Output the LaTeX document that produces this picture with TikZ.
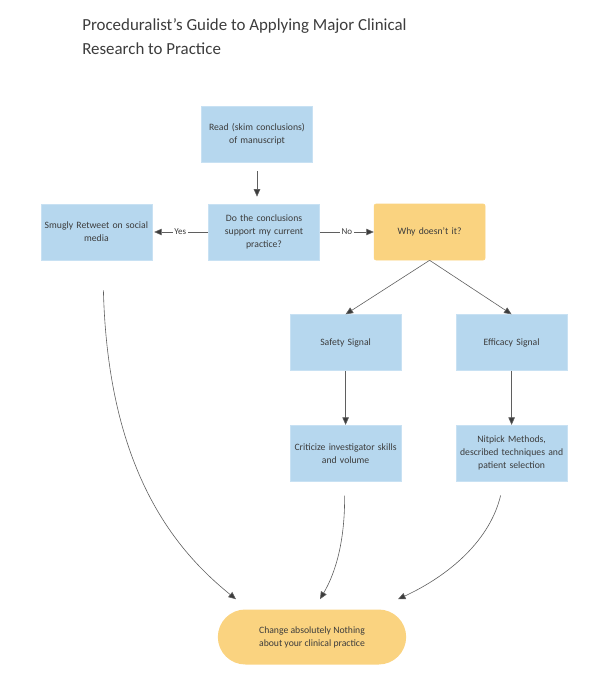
\documentclass[tikz,border=0pt]{standalone}
\usepackage{fontspec}
\setmainfont{Carlito}
\usetikzlibrary{positioning,shapes.misc,arrows.meta}
\definecolor{boxblue}{RGB}{182,215,238}
\definecolor{boxline}{RGB}{200,225,243}
\definecolor{boxorange}{RGB}{250,211,128}
\definecolor{lineg}{RGB}{95,95,95}
\definecolor{textg}{RGB}{60,60,60}

\begin{document}
\begin{tikzpicture}[x=1pt, y=-1pt, semithick, node distance=54pt]
  \tikzstyle{every node}=[font=\fontsize{9.7}{13}\selectfont, text=textg]
  \tikzstyle{proc}=[rectangle, fill=boxblue, draw=boxline, minimum width=111pt, minimum height=56pt, text width=110pt, align=center, inner sep=0pt]
  \tikzstyle{ask}=[proc, fill=boxorange, draw=boxorange, rounded corners=2pt]
  \tikzstyle{stop}=[rounded rectangle, fill=boxorange, draw=none, minimum width=195pt, minimum height=55pt, align=center]
  \tikzstyle{tag}=[fill=white, inner sep=1.5pt, font=\fontsize{9}{10}\selectfont]
  \tikzstyle{flow}=[draw=lineg, -{Triangle[length=7.5pt,width=6.5pt,fill=textg]}]
  \useasboundingbox (0,0) rectangle (605,680);
  \node[align=left, anchor=north west, font=\fontsize{16.9}{24}\selectfont, text=textg, inner sep=0pt] (title) at (82,18)
       {Proceduralist's Guide to Applying Major Clinical\\ Research to Practice};
  \node[proc]          (read)  at (257,134)       {Read (skim conclusions)\\ of manuscript};
  \node[proc]          (ask)   at (264,232)       {Do the conclusions\\ support my current\\ practice?};
  \node[proc]          (smug)  [left=56pt of ask] {Smugly Retweet on social\\ media};
  \node[ask]           (why)   [right=of ask]     {Why doesn't it?};
  \node[proc]          (safe)  [below=of why, xshift=-84pt]  {Safety Signal};
  \node[proc]          (eff)   [below=of why, xshift=82pt]   {Efficacy Signal};
  \node[proc]          (crit)  [below=of safe]    {Criticize investigator skills\\ and volume};
  \node[proc]          (nit)   [below=of eff]     {Nitpick Methods,\\ described techniques and\\ patient selection};
  \node[stop]          (none)  at (312,637)       {Change absolutely Nothing\\ about your clinical practice};

  \path (read.south) edge [flow, shorten <=9pt, shorten >=7pt]   (read.south |- ask.north)
        (ask)  edge [flow, shorten >=2pt]  node [tag] {Yes} (smug)
               edge [flow]                 node [tag] {No}  (why)
        (why.south)  edge [flow] (safe.north)
                     edge [flow] (eff.north)
        (safe) edge [flow] (crit)
        (eff)  edge [flow] (nit);

  % curved ends into the terminal
  \draw[flow] ([xshift=7pt, yshift=-30pt]smug.south) .. controls (108,470) and (175,550) .. ([xshift=-76pt, yshift=10pt]none.north);
  \draw[flow] ([xshift=-1pt, yshift=-14pt]crit.south) .. controls (345,540) and (336,572) .. ([xshift=8pt, yshift=10pt]none.north);
  \draw[flow] ([xshift=-11pt, yshift=-14pt]nit.south) .. controls (490,540) and (450,575) .. ([xshift=86pt, yshift=10pt]none.north);
\end{tikzpicture}
\end{document}
